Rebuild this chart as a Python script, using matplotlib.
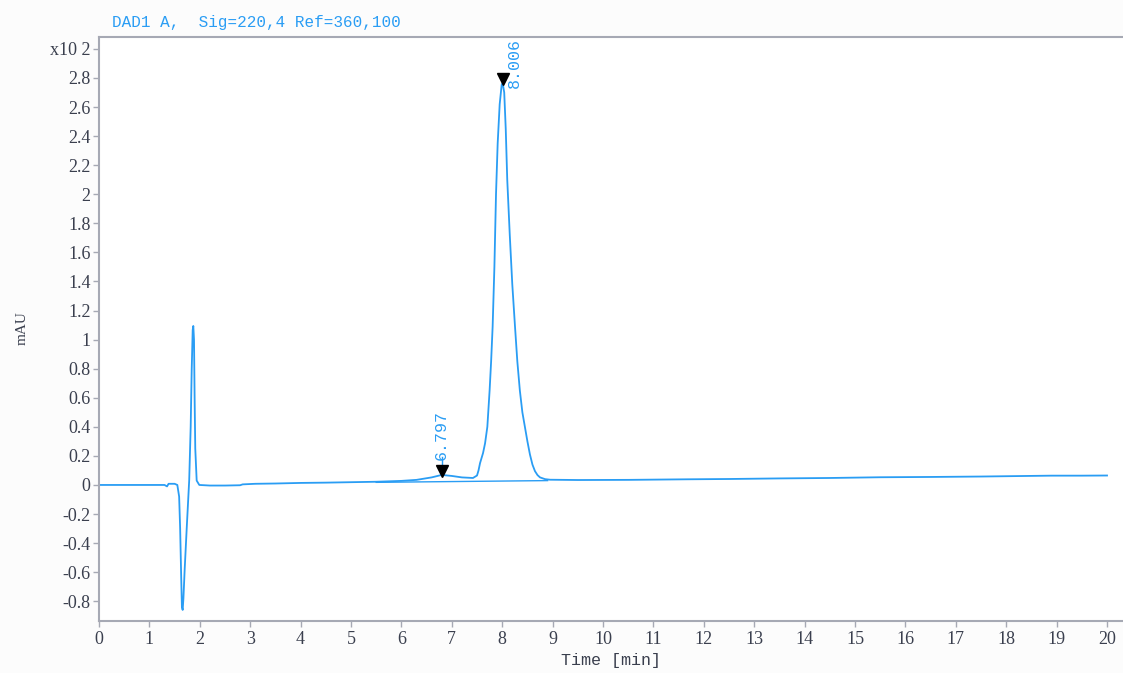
import matplotlib
matplotlib.use("Agg")
import matplotlib.pyplot as plt
import numpy as np

# ---- data ----
time_min = [0.0, 0.5, 1.0, 1.3, 1.35, 1.38, 1.42, 1.5, 1.554, 1.59, 1.61, 1.63, 1.645, 1.66,
            1.675, 1.70, 1.74, 1.79, 1.819, 1.839, 1.859, 1.871, 1.885, 1.897, 1.91, 1.938,
            1.99, 2.2, 2.5, 2.8, 2.85, 3.1, 3.5, 4.0, 4.5, 5.0, 5.5, 6.0, 6.3, 6.6, 6.8, 7.0,
            7.2, 7.42, 7.5, 7.53, 7.56, 7.62, 7.66, 7.705, 7.75, 7.78, 7.81, 7.845, 7.877,
            7.91, 7.95, 7.99, 8.01, 8.04, 8.07, 8.10, 8.15, 8.20, 8.254, 8.30, 8.35, 8.40,
            8.45, 8.50, 8.55, 8.60, 8.65, 8.70, 8.75, 8.85, 8.95, 9.5, 10.5, 11.7, 12.5,
            13.5, 14.5, 15.5, 16.5, 17.5, 18.9, 19.5, 20.0]
signal = [0.0, 0.0, 0.0, 0.0, -0.01, 0.008, 0.008, 0.008, 0.0, -0.08, -0.30, -0.62, -0.84,
          -0.86, -0.78, -0.58, -0.30, 0.035, 0.40, 0.79, 1.066, 1.094, 1.0, 0.60, 0.25, 0.03,
          0.0, -0.004, -0.004, -0.002, 0.004, 0.008, 0.010, 0.014, 0.016, 0.019, 0.022, 0.028,
          0.035, 0.052, 0.069, 0.062, 0.052, 0.048, 0.065, 0.10, 0.15, 0.22, 0.287, 0.40,
          0.65, 0.85, 1.089, 1.50, 2.0, 2.35, 2.62, 2.755, 2.763, 2.70, 2.45, 2.10, 1.72,
          1.38, 1.089, 0.85, 0.65, 0.50, 0.40, 0.30, 0.21, 0.14, 0.095, 0.068, 0.052, 0.040,
          0.036, 0.034, 0.035, 0.039, 0.041, 0.045, 0.048, 0.053, 0.055, 0.058, 0.064, 0.064,
          0.065]

peak_times = [6.797, 8.006]
peak_heights = [0.069, 2.763]
peak_labels = ["6.797", "8.006"]

baseline_t = [5.5, 8.9]
baseline_y = [0.018, 0.030]

y_ticks = [-0.8, -0.6, -0.4, -0.2, 0, 0.2, 0.4, 0.6, 0.8, 1, 1.2, 1.4, 1.6, 1.8, 2,
           2.2, 2.4, 2.6, 2.8, 3.0]
y_tick_labels = ["-0.8", "-0.6", "-0.4", "-0.2", "0", "0.2", "0.4", "0.6", "0.8", "1",
                 "1.2", "1.4", "1.6", "1.8", "2", "2.2", "2.4", "2.6", "2.8", "x10 2"]
x_ticks = list(range(0, 21))

# ---- styling ----
line_color = "#2a9df4"
text_color = "#3a3f4e"
spine_color = "#a6a9b4"

fig = plt.figure(figsize=(11.23, 6.73), dpi=100, facecolor="#fcfcfc")
ax = fig.add_axes([99/1123, 1-621/673, 1-99/1123, (621-37)/673])
ax.set_facecolor("white")

ax.plot(time_min, signal, color=line_color, lw=1.3)
ax.plot(baseline_t, baseline_y, color=line_color, lw=1.0)

ax.set_xlim(0, 20.317)
ax.set_ylim(-0.936, 3.082)

# peak markers and labels
for t, h, lab in zip(peak_times, peak_heights, peak_labels):
    ax.plot([t], [h + 0.03], marker="v", color="black", ms=8, zorder=5)
    if t > 7.5:
        ax.text(t + 0.24, h - 0.03, lab, rotation=90, color=line_color, fontsize=12,
                family="Liberation Mono", ha="center", va="bottom")
    else:
        ax.text(t, h + 0.10, lab, rotation=90, color=line_color, fontsize=12,
                family="Liberation Mono", ha="center", va="bottom")
        ax.plot([t, t], [h + 0.06, h + 0.12], color=line_color, lw=1)

ax.set_xticks(x_ticks)
ax.set_xticklabels([str(v) for v in x_ticks])
ax.set_yticks(y_ticks)
ax.set_yticklabels(y_tick_labels)

for lab in ax.get_xticklabels() + ax.get_yticklabels():
    lab.set_family("Liberation Serif")
    lab.set_fontsize(13)
    lab.set_color(text_color)

ax.tick_params(axis="both", direction="out", length=4, width=1, color=spine_color, pad=2)
ax.tick_params(axis="x", pad=3)

for side in ["left", "bottom", "top"]:
    ax.spines[side].set_color(spine_color)
    ax.spines[side].set_linewidth(1.5)
ax.spines["right"].set_visible(False)

ax.set_xlabel("Time [min]", family="Liberation Mono", fontsize=12, color=text_color, labelpad=4)
fig.text(22/1123, 1-328/673, "mAU", rotation=90, family="Liberation Serif", fontsize=11,
         color=text_color, ha="center", va="center")

fig.text(112/1123, 1-22/673, "DAD1 A,  Sig=220,4 Ref=360,100", family="Liberation Mono",
         fontsize=11.5, color=line_color, ha="left", va="center")

fig.savefig("out.png", dpi=100, facecolor=fig.get_facecolor())
